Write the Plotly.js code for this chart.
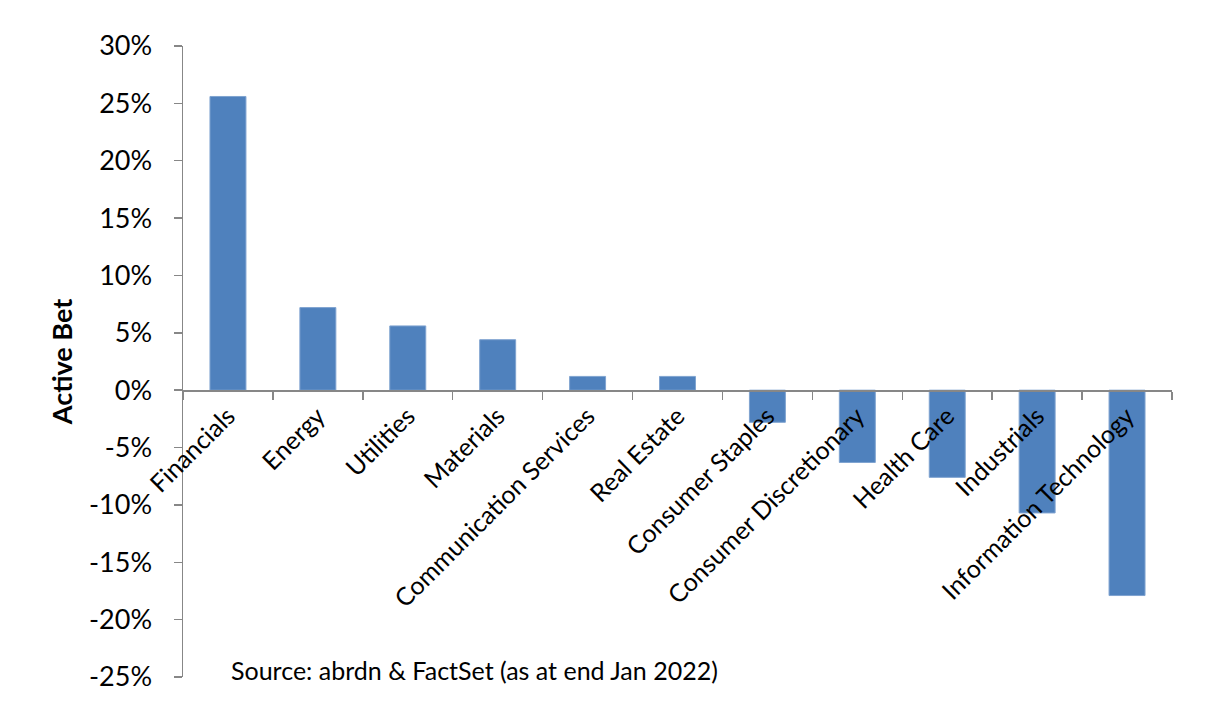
<!DOCTYPE html>
<html>
<head>
<meta charset="utf-8">
<script src="https://cdn.plot.ly/plotly-3.0.1.min.js"></script>
<style>html,body{margin:0;padding:0;background:#fff;}#chart{width:1208px;height:725px;}</style>
</head>
<body>
<div id="chart"></div>
<script>
const categories = ["Financials","Energy","Utilities","Materials","Communication Services","Real Estate","Consumer Staples","Consumer Discretionary","Health Care","Industrials","Information Technology"];
const activeBet = [25.6, 7.2, 5.6, 4.4, 1.2, 1.2, -2.8, -6.3, -7.6, -10.7, -17.9];
const yTickVals = [-25, -20, -15, -10, -5, 0, 5, 10, 15, 20, 25, 30];
const yTickText = ["-25%", "-20%", "-15%", "-10%", "-5%", "0%", "5%", "10%", "15%", "20%", "25%", "30%"];
const sourceText = "Source: abrdn &amp; FactSet (as at end Jan 2022)";

const FONT = "Lato, 'Open Sans', sans-serif";
const AXIS = "#878787";

const trace = {
  type: "bar",
  x: categories,
  y: activeBet,
  marker: {color: "#4F81BD", line: {color: "#7FA3D0", width: 1}},
  hoverinfo: "skip"
};

const layout = {
  width: 1208, height: 725,
  margin: {l: 183, r: 36, t: 46, b: 48},
  paper_bgcolor: "#fff", plot_bgcolor: "#fff",
  showlegend: false,
  bargap: 0.6,
  font: {family: FONT, color: "#000", size: 25},
  xaxis: {
    type: "category",
    anchor: "free",
    position: 25 / 55,
    showline: true, linecolor: AXIS, linewidth: 1.5,
    ticks: "outside", tickson: "boundaries", ticklen: 8, tickcolor: AXIS, tickwidth: 1.5,
    tickangle: -45,
    tickfont: {family: FONT, size: 25, color: "#000"},
    showgrid: false, zeroline: false,
    automargin: false
  },
  yaxis: {
    range: [-25, 30],
    tickvals: yTickVals, ticktext: yTickText,
    showline: true, linecolor: AXIS, linewidth: 1.5,
    ticks: "outside", ticklen: 8, tickcolor: AXIS, tickwidth: 1.5,
    ticklabelstandoff: 16,
    tickfont: {family: FONT, size: 27, color: "#000"},
    showgrid: false, zeroline: false,
    automargin: false,
    title: {text: "<b>Active Bet</b>", font: {family: FONT, size: 27, color: "#000"}, standoff: 8}
  },
  annotations: [{
    xref: "paper", yref: "paper",
    x: (229 - 183) / 989, y: (677 - 670) / 631,
    xanchor: "left", yanchor: "middle",
    text: sourceText, showarrow: false,
    font: {family: FONT, size: 25, color: "#000"}
  }]
};

Plotly.newPlot("chart", [trace], layout, {displayModeBar: false, staticPlot: true});
</script>
</body>
</html>
